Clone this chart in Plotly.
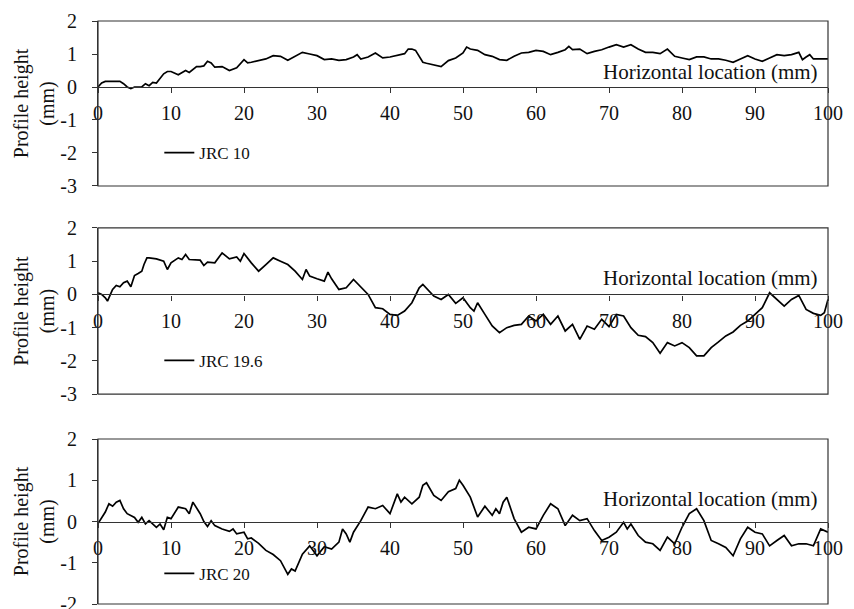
import plotly.graph_objects as go

# ---------------- data ----------------
x1 = [0, 0.5, 1, 2, 3, 3.5, 4, 4.5, 5, 6, 6.5, 7, 7.5, 8, 8.5, 9, 9.5, 10, 11, 12, 12.5, 13, 13.5, 14, 14.5,
      15, 15.5, 16, 17, 18, 19, 20, 20.5, 21, 22, 23, 24, 25, 26, 27, 28, 29, 30, 31, 32, 33, 34, 35, 35.5,
      36, 37, 38, 39, 40, 41, 42, 42.5, 43, 43.5, 44, 44.5, 45, 46, 47, 48, 49, 50, 50.5, 51, 52, 53, 54,
      55, 56, 57, 58, 59, 60, 61, 62, 63, 64, 64.5, 65, 66, 67, 68, 69, 70, 71, 72, 73, 74, 75, 76, 77, 78,
      79, 80, 81, 82, 83, 84, 85, 86, 87, 88, 89, 90, 91, 92, 93, 94, 95, 96, 96.5, 97, 97.5, 98, 99, 100]
y1 = [0, 0.12, 0.17, 0.17, 0.17, 0.1, 0, -0.05, 0, 0, 0.1, 0.04, 0.14, 0.12, 0.27, 0.4, 0.47, 0.47, 0.37,
      0.5, 0.44, 0.52, 0.62, 0.62, 0.64, 0.78, 0.73, 0.6, 0.62, 0.5, 0.58, 0.83, 0.73, 0.75, 0.81, 0.85,
      0.95, 0.93, 0.81, 0.93, 1.05, 1.0, 0.95, 0.83, 0.85, 0.81, 0.83, 0.91, 0.98, 0.85, 0.91, 1.03, 0.88,
      0.91, 0.95, 1.01, 1.15, 1.15, 1.11, 0.93, 0.75, 0.72, 0.66, 0.62, 0.8, 0.88, 1.03, 1.21, 1.15, 1.11,
      0.98, 0.93, 0.83, 0.81, 0.93, 1.03, 1.05, 1.11, 1.08, 0.98, 1.05, 1.13, 1.23, 1.13, 1.15, 1.01, 1.08,
      1.13, 1.21, 1.28, 1.21, 1.28, 1.15, 1.05, 1.05, 1.01, 1.15, 0.93, 0.88, 0.83, 0.91, 0.91, 0.85, 0.85,
      0.81, 0.75, 0.85, 0.95, 0.85, 0.78, 0.88, 0.98, 0.95, 0.98, 1.05, 0.83, 0.91, 0.98, 0.85, 0.85, 0.85]

x2 = [0, 0.5, 1, 1.3, 1.7, 2, 2.5, 3, 3.5, 4, 4.5, 5, 5.5, 6, 6.3, 6.7, 7, 8, 9, 9.5, 10, 11, 11.5, 12,
      12.5, 13, 14, 14.5, 15, 16, 16.5, 17, 18, 19, 19.5, 20, 21, 22, 23, 24, 25, 26, 27, 28, 28.5, 29, 30,
      31, 31.5, 32, 33, 34, 35, 36, 37, 38, 39, 40, 41, 42, 43, 44, 44.5, 46, 47, 48, 49, 50, 51, 51.5, 52,
      53, 54, 55, 56, 57, 58, 59, 60, 61, 62, 63, 64, 65, 66, 67, 68, 69, 70, 71, 72, 73, 74, 75, 76, 77,
      78, 79, 80, 81, 82, 83, 84, 85, 86, 87, 88, 89, 90, 91, 92, 93, 94, 95, 96, 97, 98, 99, 99.5, 100]
y2 = [0.05, 0, -0.1, -0.2, 0, 0.15, 0.27, 0.23, 0.35, 0.4, 0.23, 0.57, 0.63, 0.7, 0.9, 1.1, 1.1, 1.07,
      1.0, 0.75, 0.95, 1.1, 1.05, 1.2, 1.05, 1.05, 1.03, 0.87, 0.97, 0.95, 1.1, 1.25, 1.07, 1.13, 1.0, 1.23,
      0.95, 0.7, 0.9, 1.1, 1.0, 0.9, 0.7, 0.45, 0.75, 0.55, 0.47, 0.4, 0.67, 0.47, 0.15, 0.2, 0.45, 0.23, 0,
      -0.4, -0.43, -0.6, -0.63, -0.5, -0.25, 0.2, 0.3, -0.05, -0.15, 0, -0.27, -0.1, -0.4, -0.5, -0.25,
      -0.6, -0.95, -1.15, -1.0, -0.93, -0.9, -0.65, -0.8, -0.6, -0.9, -0.65, -1.1, -0.9, -1.35, -0.95,
      -1.05, -0.75, -0.97, -0.6, -0.65, -1.0, -1.23, -1.27, -1.45, -1.77, -1.45, -1.55, -1.45, -1.6, -1.85,
      -1.85, -1.6, -1.43, -1.25, -1.13, -0.93, -0.8, -0.6, -0.4, 0.05, -0.15, -0.35, -0.15, -0.03, -0.45,
      -0.57, -0.63, -0.55, -0.15]

x3 = [0, 0.5, 1, 1.5, 2, 2.5, 3, 3.5, 4, 5, 5.5, 6, 6.5, 7, 8, 8.5, 9, 9.5, 10, 11, 12, 12.5, 13, 14, 14.5,
      15, 15.5, 16, 17, 18, 18.5, 19, 20, 20.5, 21, 22, 23, 24, 25, 26, 26.5, 27, 28, 29, 30, 31, 32, 33,
      33.5, 34, 34.5, 35, 36, 37, 38, 39, 40, 41, 41.5, 42, 43, 44, 44.5, 45, 46, 47, 48, 49, 49.5, 50, 51,
      52, 53, 54, 54.5, 55, 55.5, 56, 57, 58, 59, 60, 61, 62, 63, 64, 65, 66, 67, 68, 69, 70, 71, 72, 72.5,
      73, 74, 75, 76, 77, 78, 79, 80, 81, 82, 83, 84, 85, 86, 87, 88, 89, 90, 91, 92, 93, 94, 95, 96, 97,
      98, 99, 100]
y3 = [-0.05, 0.1, 0.23, 0.43, 0.37, 0.47, 0.51, 0.31, 0.19, 0.1, -0.02, 0.1, -0.06, 0.02, -0.14, -0.06,
      -0.2, 0.1, 0.07, 0.35, 0.31, 0.19, 0.47, 0.19, 0, -0.12, 0.02, -0.1, -0.18, -0.24, -0.18, -0.3, -0.26,
      -0.42, -0.4, -0.53, -0.7, -0.8, -0.95, -1.28, -1.15, -1.2, -0.79, -0.59, -0.83, -0.61, -0.67, -0.5,
      -0.18, -0.3, -0.5, -0.26, 0.02, 0.35, 0.31, 0.39, 0.19, 0.67, 0.47, 0.59, 0.43, 0.59, 0.88, 0.94,
      0.63, 0.51, 0.72, 0.8, 1.0, 0.88, 0.59, 0.11, 0.37, 0.15, 0.31, 0.19, 0.47, 0.59, 0.07, -0.26, -0.14,
      -0.18, 0.15, 0.43, 0.31, -0.1, 0.15, 0.02, 0.07, -0.22, -0.46, -0.38, -0.26, -0.02, -0.18, -0.06,
      -0.34, -0.5, -0.54, -0.7, -0.38, -0.54, -0.14, 0.19, 0.31, 0.02, -0.46, -0.54, -0.63, -0.83, -0.42,
      -0.14, -0.26, -0.3, -0.59, -0.46, -0.34, -0.59, -0.54, -0.54, -0.59, -0.18, -0.26]

names = ["JRC 10", "JRC 19.6", "JRC 20"]
x_ticks = [0, 10, 20, 30, 40, 50, 60, 70, 80, 90, 100]
y_ticks = [[-3, -2, -1, 0, 1, 2], [-3, -2, -1, 0, 1, 2], [-2, -1, 0, 1, 2]]
y_ranges = [(-3, 2), (-3, 2), (-2, 2)]
x_label = "Horizontal location (mm)"
y_label = "Profile height<br>(mm)"

# ---------------- layout ----------------
FONT = "Liberation Serif, Times New Roman, serif"
domains = [(0.717, 1.0), (0.360, 0.645), (0.0, 0.283)]
legend_y = [-2.0, -2.0, -1.27]
label_y = [0.45, 0.48, 0.54]
series = [(x1, y1), (x2, y2), (x3, y3)]

fig = go.Figure()
layout = dict(
    width=854, height=609,
    margin=dict(l=98, r=26, t=21, b=5, autoexpand=False),
    paper_bgcolor="white", plot_bgcolor="white",
    font=dict(family=FONT, size=20, color="#111"),
    showlegend=True,
)
shapes = []
annotations = []

for i, ((xs, ys), name, (ymin, ymax), (d0, d1)) in enumerate(zip(series, names, y_ranges, domains)):
    n = "" if i == 0 else str(i + 1)
    leg = "legend" + n
    fig.add_trace(go.Scatter(x=xs, y=ys, mode="lines", name=name,
                             line=dict(color="black", width=1.7),
                             xaxis="x" + n, yaxis="y" + n, legend=leg))
    zero_pos = d0 + (0 - ymin) / (ymax - ymin) * (d1 - d0)
    layout["xaxis" + n] = dict(
        domain=[0, 1], range=[0, 100], anchor="free", position=zero_pos,
        tickvals=x_ticks, ticks="outside", ticklen=5, tickcolor="#333",
        showline=True, linecolor="#333", linewidth=1.2, showgrid=False, zeroline=False,
        automargin=False, ticklabelstandoff=3,
        tickfont=dict(size=20, family=FONT, color="#111"),
    )
    layout["yaxis" + n] = dict(
        domain=[d0, d1], range=[ymin, ymax], anchor="x" + n,
        tickvals=y_ticks[i], ticktext=[str(v) for v in y_ticks[i]],
        ticks="outside", ticklen=5, tickcolor="#333", ticklabelstandoff=11,
        ticklabeloverflow="allow",
        showline=True, linecolor="#333", linewidth=1.2, showgrid=False, zeroline=False,
        automargin=False,
        tickfont=dict(size=20, family=FONT, color="#111"),
        title=dict(text=y_label, font=dict(size=20, family=FONT, color="#111"), standoff=0),
    )
    shapes.append(dict(type="rect", xref="x" + n + " domain", yref="y" + n + " domain",
                       x0=0, x1=1, y0=0, y1=1, line=dict(color="#333", width=1.2), layer="above"))
    annotations.append(dict(text=x_label, x=100, y=label_y[i], xref="x" + n, yref="y" + n,
                            xanchor="right", yanchor="middle", xshift=-8, showarrow=False,
                            font=dict(size=21, family=FONT, color="#111")))
    ly = d0 + (legend_y[i] - ymin) / (ymax - ymin) * (d1 - d0)
    layout[leg] = dict(x=0.084, y=ly, xanchor="left", yanchor="middle",
                       bgcolor="rgba(0,0,0,0)", borderwidth=0, itemwidth=30,
                       font=dict(size=17, family=FONT, color="#111"))

layout["shapes"] = shapes
layout["annotations"] = annotations
fig.update_layout(**layout)
fig.write_html("out.html", config={"displayModeBar": False},
               post_script="document.body.style.margin='0';document.body.style.padding='0';")
